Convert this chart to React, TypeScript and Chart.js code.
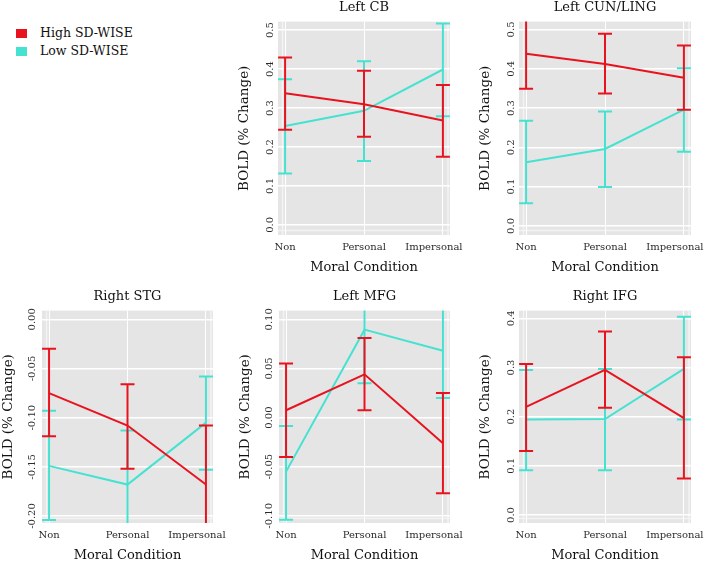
import { useEffect, useRef } from "react";
import { Chart, registerables } from "chart.js";

Chart.register(...registerables);

// ---------- data ----------
const conditions = ["Non", "Personal", "Impersonal"];
const seriesNames = ["High SD-WISE", "Low SD-WISE"];
const seriesColors = ["#E8131F", "#46E2D1"];

// Left CB
const cbHighMean = [0.338, 0.31, 0.268];
const cbHighLower = [0.244, 0.226, 0.175];
const cbHighUpper = [0.43, 0.396, 0.359];
const cbLowMean = [0.254, 0.293, 0.399];
const cbLowLower = [0.132, 0.164, 0.279];
const cbLowUpper = [0.374, 0.42, 0.517];
const cbYTicks = [0.0, 0.1, 0.2, 0.3, 0.4, 0.5];

// Left CUN/LING
const cunHighMean = [0.438, 0.412, 0.377];
const cunHighLower = [0.349, 0.337, 0.296];
const cunHighUpper = [0.527, 0.489, 0.459];
const cunLowMean = [0.162, 0.196, 0.296];
const cunLowLower = [0.058, 0.099, 0.189];
const cunLowUpper = [0.268, 0.291, 0.401];
const cunYTicks = [0.0, 0.1, 0.2, 0.3, 0.4, 0.5];

// Right STG
const stgHighMean = [-0.075, -0.108, -0.168];
const stgHighLower = [-0.119, -0.152, -0.228];
const stgHighUpper = [-0.03, -0.066, -0.108];
const stgLowMean = [-0.149, -0.168, -0.105];
const stgLowLower = [-0.204, -0.223, -0.153];
const stgLowUpper = [-0.093, -0.113, -0.058];
const stgYTicks = [-0.2, -0.15, -0.1, -0.05, 0.0];

// Left MFG
const mfgHighMean = [0.0075, 0.044, -0.026];
const mfgHighLower = [-0.04, 0.0075, -0.077];
const mfgHighUpper = [0.055, 0.081, 0.025];
const mfgLowMean = [-0.055, 0.0895, 0.068];
const mfgLowLower = [-0.104, 0.035, 0.02];
const mfgLowUpper = [-0.0085, 0.145, 0.117];
const mfgYTicks = [-0.1, -0.05, 0.0, 0.05, 0.1];

// Right IFG
const ifgHighMean = [0.22, 0.295, 0.197];
const ifgHighLower = [0.13, 0.218, 0.074];
const ifgHighUpper = [0.307, 0.373, 0.321];
const ifgLowMean = [0.194, 0.195, 0.297];
const ifgLowLower = [0.091, 0.091, 0.194];
const ifgLowUpper = [0.295, 0.297, 0.403];
const ifgYTicks = [0.0, 0.1, 0.2, 0.3, 0.4];

const FONT = "'DejaVu Serif', serif";

type Panel = {
  title: string;
  high: number[][];
  low: number[][];
  yTicks: number[];
  yMin: number;
  yMax: number;
  decimals: number;
  left: number;
  top: number;
  width: number;
  height: number;
  padRight: number;
  tickPad: number;
};

const panels: Panel[] = [
  {
    title: "Left CB",
    high: [cbHighMean, cbHighLower, cbHighUpper],
    low: [cbLowMean, cbLowLower, cbLowUpper],
    yTicks: cbYTicks, yMin: -0.026, yMax: 0.522, decimals: 1,
    left: 236, top: 0, width: 230, height: 280, padRight: 16, tickPad: 0,
  },
  {
    title: "Left CUN/LING",
    high: [cunHighMean, cunHighLower, cunHighUpper],
    low: [cunLowMean, cunLowLower, cunLowUpper],
    yTicks: cunYTicks, yMin: -0.023, yMax: 0.52, decimals: 1,
    left: 477, top: 0, width: 232, height: 280, padRight: 18, tickPad: 0,
  },
  {
    title: "Right STG",
    high: [stgHighMean, stgHighLower, stgHighUpper],
    low: [stgLowMean, stgLowLower, stgLowUpper],
    yTicks: stgYTicks, yMin: -0.2071, yMax: 0.0089, decimals: 2,
    left: 0, top: 289, width: 229, height: 279, padRight: 16, tickPad: -3,
  },
  {
    title: "Left MFG",
    high: [mfgHighMean, mfgHighLower, mfgHighUpper],
    low: [mfgLowMean, mfgLowLower, mfgLowUpper],
    yTicks: mfgYTicks, yMin: -0.1073, yMax: 0.1089, decimals: 2,
    left: 237, top: 289, width: 229, height: 279, padRight: 16, tickPad: -3,
  },
  {
    title: "Right IFG",
    high: [ifgHighMean, ifgHighLower, ifgHighUpper],
    low: [ifgLowMean, ifgLowLower, ifgLowUpper],
    yTicks: ifgYTicks, yMin: -0.0163, yMax: 0.4157, decimals: 1,
    left: 477, top: 289, width: 232, height: 279, padRight: 18, tickPad: 0,
  },
];

const bgPlugin = {
  id: "panelBg",
  beforeDraw(chart: any) {
    const { ctx, chartArea } = chart;
    const { left, right, top, bottom } = chartArea;
    ctx.save();
    ctx.fillStyle = "#E5E5E5";
    ctx.fillRect(left, top, right - left, bottom - top);
    // faint inner edge strips seen in the reference rendering
    ctx.strokeStyle = "rgba(255,255,255,0.55)";
    ctx.lineWidth = 1.5;
    ctx.beginPath();
    ctx.moveTo(left + 4.5, top);
    ctx.lineTo(left + 4.5, bottom);
    ctx.moveTo(right - 2, top);
    ctx.lineTo(right - 2, bottom);
    ctx.moveTo(left, bottom - 4.5);
    ctx.lineTo(right, bottom - 4.5);
    ctx.stroke();
    ctx.restore();
    // nudge the last x label inward like the reference
    const xs = chart.scales.x;
    const items = xs.getLabelItems();
    const last = items[items.length - 1];
    if (last && !last._shifted) {
      const t = last.options.translation;
      last.options.translation = [t[0] - 9, t[1]];
      last._shifted = true;
    }
  },
};

const errorBarPlugin = {
  id: "errorBars",
  beforeDatasetDraw(chart: any, args: any) {
    const ds: any = chart.data.datasets[args.index];
    if (!ds.lower) return;
    const { ctx, chartArea } = chart;
    const x = chart.scales.x;
    const y = chart.scales.y;
    ctx.save();
    ctx.beginPath();
    ctx.rect(chartArea.left, chartArea.top, chartArea.right - chartArea.left, chartArea.bottom - chartArea.top);
    ctx.clip();
    ctx.strokeStyle = ds.borderColor;
    ctx.lineWidth = 2;
    ds.data.forEach((p: any, i: number) => {
      const px = x.getPixelForValue(p.x);
      const lo = y.getPixelForValue(ds.lower[i]);
      const hi = y.getPixelForValue(ds.upper[i]);
      ctx.beginPath();
      ctx.moveTo(px, lo);
      ctx.lineTo(px, hi);
      ctx.moveTo(px - 7, lo);
      ctx.lineTo(px + 7, lo);
      ctx.moveTo(px - 7, hi);
      ctx.lineTo(px + 7, hi);
      ctx.stroke();
    });
    ctx.restore();
  },
};

function PanelChart({ p }: { p: Panel }) {
  const ref = useRef<HTMLCanvasElement>(null);
  useEffect(() => {
    if (!ref.current) return;
    const mk = (vals: number[][], idx: number) => ({
      label: seriesNames[idx],
      data: vals[0].map((v, i) => ({ x: i, y: v })),
      lower: vals[1],
      upper: vals[2],
      borderColor: seriesColors[idx],
      backgroundColor: seriesColors[idx],
      borderWidth: 2,
      pointRadius: 0,
      tension: 0,
    });
    const chart = new Chart(ref.current, {
      type: "line",
      data: { datasets: [mk(p.high, 0), mk(p.low, 1)] as any },
      options: {
        animation: false,
        responsive: false,
        devicePixelRatio: 1,
        layout: { padding: { left: 0, right: p.padRight, top: 0, bottom: 0 } },
        plugins: {
          legend: { display: false },
          tooltip: { enabled: false },
          title: {
            display: true,
            fullSize: false,
            text: p.title,
            color: "#111",
            font: { family: FONT, size: 13, weight: "normal" },
            padding: { top: 0, bottom: 6 },
          },
        },
        scales: {
          x: {
            type: "linear",
            min: -0.09,
            max: 2.09,
            afterBuildTicks: (s: any) => {
              s.ticks = conditions.map((_, i) => ({ value: i }));
            },
            afterFit: (s: any) => {
              s.height = 45;
              s.paddingLeft = 0;
              s.paddingRight = 0;
            },
            ticks: {
              callback: (v: any) => conditions[Math.round(Number(v))],
              color: "#2b2b2b",
              font: { family: FONT, size: 10 },
              padding: 6,
              maxRotation: 0,
              minRotation: 0,
              autoSkip: false,
            },
            grid: { color: "#FFFFFF", lineWidth: 1, drawTicks: false },
            border: { display: false },
            title: {
              display: true,
              text: "Moral Condition",
              color: "#111",
              font: { family: FONT, size: 13 },
              padding: { top: 0, bottom: 5 },
            },
          },
          y: {
            type: "linear",
            min: p.yMin,
            max: p.yMax,
            afterBuildTicks: (s: any) => {
              s.ticks = p.yTicks.map((v) => ({ value: v }));
            },
            afterFit: (s: any) => {
              s.width = 42;
              s.paddingTop = 0;
              s.paddingBottom = 0;
            },
            ticks: {
              callback: (v: any) => Number(v).toFixed(p.decimals),
              color: "#2b2b2b",
              font: { family: FONT, size: 10 },
              minRotation: 90,
              maxRotation: 90,
              crossAlign: "center",
              padding: p.tickPad,
              autoSkip: false,
            },
            grid: { color: "#FFFFFF", lineWidth: 1.5, drawTicks: false },
            border: { display: false },
            title: {
              display: true,
              text: "BOLD (% Change)",
              color: "#111",
              font: { family: FONT, size: 13.5 },
              padding: { top: 0, bottom: 0 },
            },
          },
        },
      } as any,
      plugins: [bgPlugin, errorBarPlugin],
    });
    return () => chart.destroy();
  }, [p]);
  return (
    <canvas
      ref={ref}
      width={p.width}
      height={p.height}
      style={{ position: "absolute", left: p.left, top: p.top, width: p.width, height: p.height }}
    />
  );
}

export default function App() {
  return (
    <div
      style={{
        position: "absolute",
        left: 0,
        top: 0,
        width: 709,
        height: 561,
        overflow: "hidden",
        background: "#FFFFFF",
      }}
    >
      {seriesNames.map((name, i) => (
        <div key={name}>
          <div
            style={{
              position: "absolute",
              left: 16,
              top: 29 + i * 18,
              width: 11,
              height: 9,
              background: seriesColors[i],
            }}
          />
          <div
            style={{
              position: "absolute",
              left: 40,
              top: 25 + i * 18,
              height: 16,
              lineHeight: "16px",
              fontFamily: FONT,
              fontSize: 12.5,
              color: "#111",
              whiteSpace: "nowrap",
            }}
          >
            {name}
          </div>
        </div>
      ))}
      {panels.map((p) => (
        <PanelChart key={p.title} p={p} />
      ))}
    </div>
  );
}
